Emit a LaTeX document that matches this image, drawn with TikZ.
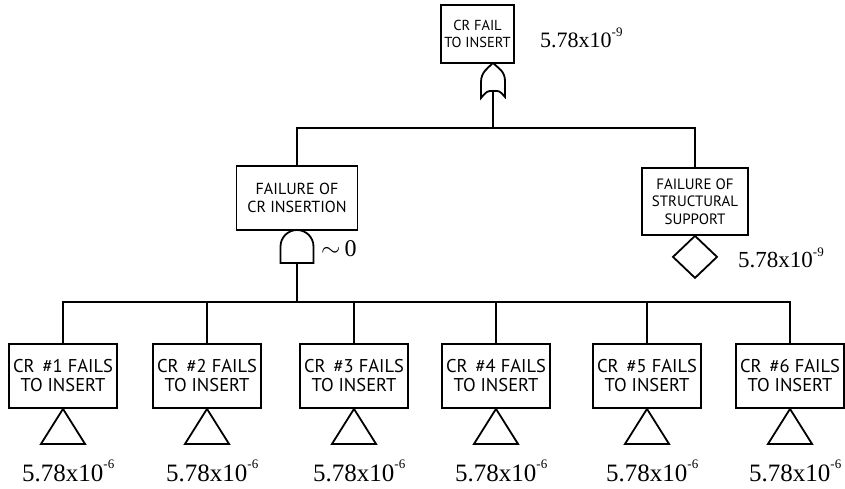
\documentclass[tikz,border=0pt]{standalone}
\usepackage{fontspec}
\setmainfont{Liberation Serif}
\newfontfamily\boxfont{PT Sans}
\tikzset{
  ln/.style={line width=1.8pt},
  evbox/.style={draw, line width=1.8pt, align=center, inner sep=0pt, fill=white},
  botbox/.style={evbox, minimum width=108pt, minimum height=64pt, font=\boxfont\fontsize{18.5}{19}\selectfont},
  prob/.style={anchor=west, inner sep=0pt, font=\fontsize{25}{25}\selectfont},
}
\newcommand{\pval}[1]{5.78x10\raisebox{0.5em}{\fontsize{13}{13}\selectfont #1}}
\begin{document}
\begin{tikzpicture}[x=1pt, y=-1pt]
\useasboundingbox (0,0) rectangle (845,489);

% top event
\node[evbox, minimum width=73pt, minimum height=58pt, font=\boxfont\fontsize{14.5}{16.5}\selectfont] (top) at (477.5,34) {CR FAIL\\TO INSERT};
\node[prob, font=\fontsize{22}{22}\selectfont] (ptop) at (540,38) {\pval{-9}};

% OR gate
\coordinate (orTip) at (493,63);
\coordinate (orIn) at (493,91);
\draw[ln] (orTip) .. controls ++(5,5) and ++(0,-10) .. ++(12,18) -- ++(0,16)
  .. controls ++(-6,-7) and ++(6,0) .. (orIn)
  .. controls ++(-6,0) and ++(6,-7) .. ++(-12,7) -- ++(0,-16)
  .. controls ++(0,-10) and ++(-5,5) .. (orTip);
\coordinate (busA) at (493,128);
\draw[ln] (orIn) -- (busA);

% middle events
\node[evbox, minimum width=121pt, minimum height=64pt, font=\boxfont\fontsize{16}{18}\selectfont] (midL) at (297,198) {FAILURE OF\\CR INSERTION};
\node[evbox, minimum width=106pt, minimum height=67pt, font=\boxfont\fontsize{15}{17.5}\selectfont] (midR) at (695,201.5) {FAILURE OF\\STRUCTURAL\\SUPPORT};
\draw[ln] (midL.north) -- (midL.north |- busA) -- (midR.north |- busA) -- (midR.north);

% AND gate
\coordinate (andTop) at (297,230);
\coordinate (andOut) at (297,263);
\draw[ln] (andOut) -- ++(16.5,0) -- ++(0,-16.5) arc[start angle=0, end angle=-180, radius=16.5] -- ++(0,16.5) -- cycle;
\node[prob, font=\fontsize{24}{24}\selectfont] (pand) at (321,249) {$\sim$\,0};

% undeveloped event (diamond)
\draw[ln] (midR.south) -- ++(22,21) -- ++(-22,21) -- ++(-22,-21) -- cycle;
\node[prob, font=\fontsize{23}{23}\selectfont] (pdia) at (738,258) {\pval{-9}};

% bottom events
\coordinate (busB) at (297,302);
\foreach \i/\x in {1/63,2/207,3/354,4/496,5/647,6/790}{
  \node[botbox] (b\i) at (\x,376) {CR~\,\#\i\ FAILS\\TO INSERT};
  \draw[ln] (b\i.south) -- ++(22,35) -- ++(-44,0) -- cycle;
  \node[prob] (p\i) at ([xshift=-41pt, yshift=-62pt]b\i.south) {\pval{-6}};
}
\draw[ln] (andOut) -- (busB);
\draw[ln] (b1.north) -- (b1.north |- busB) -- (b6.north |- busB) -- (b6.north);
\foreach \i in {2,3,4,5}{
  \draw[ln] (b\i.north) -- (b\i.north |- busB);
}
\end{tikzpicture}
\end{document}
